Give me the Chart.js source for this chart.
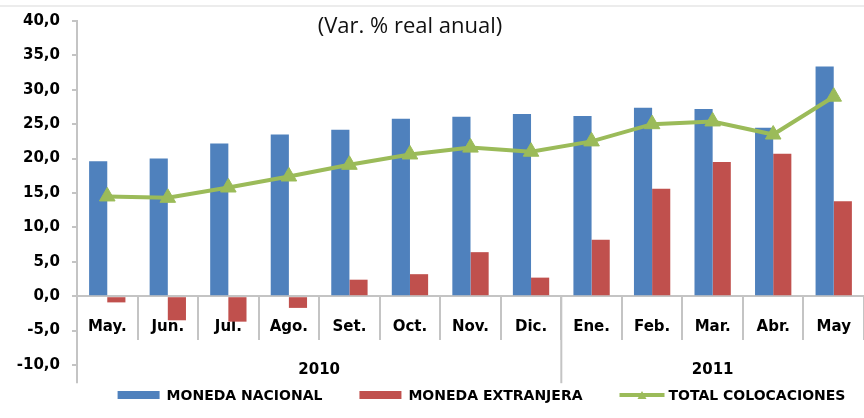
<!DOCTYPE html>
<html lang="es">
<head>
<meta charset="utf-8">
<title>Colocaciones — Var. % real anual</title>
<script src="https://cdn.jsdelivr.net/npm/chart.js@4.4.1/dist/chart.umd.min.js"></script>
<style>
  html, body { margin: 0; padding: 0; background: #fff; }
  #contenedor { position: relative; width: 864px; height: 418px; }
</style>
</head>
<body>
<div id="contenedor">
  <canvas id="cvColocaciones" width="864" height="418" role="img" aria-label="Colocaciones por moneda, variación % real anual">Colocaciones por moneda.</canvas>
</div>
<script>
// ---- datos ----
const categorias        = ["May.", "Jun.", "Jul.", "Ago.", "Set.", "Oct.", "Nov.", "Dic.", "Ene.", "Feb.", "Mar.", "Abr.", "May"];
const monedaNacional    = [19.6, 20.0, 22.2, 23.5, 24.2, 25.8, 26.1, 26.5, 26.2, 27.4, 27.2, 24.5, 33.4];
const monedaExtranjera  = [-0.9, -3.5, -3.7, -1.7, 2.4, 3.2, 6.4, 2.7, 8.2, 15.6, 19.5, 20.7, 13.8];
const totalColocaciones = [14.5, 14.3, 15.8, 17.4, 19.1, 20.6, 21.6, 21.0, 22.5, 25.0, 25.4, 23.5, 29.0];
const anios             = ["2010", "2011"];
const mesesPorAnio      = [8, 5];
const ejeY              = { min: -10, max: 40, paso: 5 };
const subtitulo         = "(Var. % real anual)";

const AZUL  = "#4F81BD";
const ROJO  = "#C0504D";
const VERDE = "#9BBB59";
const GRIS  = "#c4c4c4";
const FUENTE_EJE = "DejaVu Sans";

const leyenda = [
  { texto: "MONEDA NACIONAL",      color: AZUL,  tipo: "caja" },
  { texto: "MONEDA EXTRANJERA",    color: ROJO,  tipo: "caja" },
  { texto: "TOTAL COLOCACIONES",   color: VERDE, tipo: "linea" },
];

const fmt = (v) => v.toFixed(1).replace(".", ",");

// años (eje de categorías de dos niveles), leyenda y subtítulo
const extrasPlugin = {
  id: "extras",
  afterDraw(chart) {
    const { ctx, chartArea, scales: { x, y } } = chart;
    const y0   = y.getPixelForValue(0);
    const paso = x.getPixelForValue(1) - x.getPixelForValue(0);
    ctx.save();

    // línea gris superior (resto del recorte original)
    ctx.strokeStyle = "#e6e6e6"; ctx.lineWidth = 1.5;
    ctx.beginPath(); ctx.moveTo(0, 6); ctx.lineTo(chart.width, 6); ctx.stroke();

    // subtítulo
    ctx.fillStyle = "#111"; ctx.font = "22px 'Open Sans'";
    ctx.textAlign = "center"; ctx.textBaseline = "middle";
    ctx.fillText(subtitulo, 410, 27);

    // separadores y etiquetas de año
    ctx.strokeStyle = GRIS; ctx.lineWidth = 2;
    ctx.font = `bold 15px '${FUENTE_EJE}'`;
    let inicio = 0;
    anios.forEach((anio, i) => {
      const xi = x.getPixelForValue(inicio) - paso / 2;
      const xf = x.getPixelForValue(inicio + mesesPorAnio[i] - 1) + paso / 2;
      ctx.beginPath(); ctx.moveTo(xi, y0); ctx.lineTo(xi, y0 + 87); ctx.stroke();
      ctx.fillStyle = "#000";
      ctx.fillText(anio, (xi + xf) / 2, y0 + 74);
      inicio += mesesPorAnio[i];
    });

    // leyenda
    ctx.font = `bold 14px '${FUENTE_EJE}'`;
    ctx.textAlign = "left";
    const anchoCaja = 42, sep = 7, hueco = 37, yl = 395;
    const anchos = leyenda.map((l) => anchoCaja + sep + ctx.measureText(l.texto).width);
    const total  = anchos.reduce((a, b) => a + b, 0) + hueco * (leyenda.length - 1);
    let cx = (chartArea.left + chartArea.right) / 2 + 11 - total / 2;
    leyenda.forEach((l, i) => {
      if (l.tipo === "caja") {
        ctx.fillStyle = l.color;
        ctx.fillRect(cx, yl - 4, anchoCaja, 8);
      } else {
        ctx.strokeStyle = l.color; ctx.lineWidth = 4;
        ctx.beginPath(); ctx.moveTo(cx, yl); ctx.lineTo(cx + anchoCaja + 3, yl); ctx.stroke();
        ctx.fillStyle = l.color;
        const mx = cx + (anchoCaja + 3) / 2;
        ctx.beginPath(); ctx.moveTo(mx, yl - 4); ctx.lineTo(mx + 4.5, yl + 4); ctx.lineTo(mx - 4.5, yl + 4); ctx.closePath(); ctx.fill();
      }
      ctx.fillStyle = "#000";
      ctx.fillText(l.texto, cx + anchoCaja + sep, yl + 1);
      cx += anchos[i] + hueco;
    });
    ctx.restore();
  },
};

new Chart(document.getElementById("cvColocaciones").getContext("2d"), {
  type: "bar",
  plugins: [extrasPlugin],
  data: {
    labels: categorias,
    datasets: [
      { type: "line", label: "TOTAL COLOCACIONES", data: totalColocaciones, order: 0,
        borderColor: VERDE, backgroundColor: VERDE, borderWidth: 4, tension: 0,
        pointStyle: "triangle", pointRadius: 9, pointBorderWidth: 1, pointBackgroundColor: VERDE, pointBorderColor: VERDE },
      { label: "MONEDA NACIONAL",   data: monedaNacional,   order: 1, backgroundColor: AZUL, barPercentage: 1, categoryPercentage: 0.6 },
      { label: "MONEDA EXTRANJERA", data: monedaExtranjera, order: 1, backgroundColor: ROJO, barPercentage: 1, categoryPercentage: 0.6 },
    ],
  },
  options: {
    responsive: false, animation: false, devicePixelRatio: 1,
    layout: { autoPadding: false, padding: { top: 20, bottom: 53, left: 0, right: 0 } },
    plugins: { legend: { display: false }, tooltip: { enabled: false } },
    scales: {
      x: {
        position: { y: 0 }, offset: true,
        grid: { offset: true, drawOnChartArea: false, drawTicks: true, tickLength: 43, color: GRIS, lineWidth: 2 },
        border: { display: true, color: GRIS, width: 2 },
        ticks: { color: "#000", font: { family: FUENTE_EJE, size: 15, weight: "bold" }, padding: -21, autoSkip: false, maxRotation: 0 },
      },
      y: {
        min: ejeY.min, max: ejeY.max,
        afterFit: (s) => { s.width = 77; },
        grid: { drawOnChartArea: false, drawTicks: true, tickLength: 5, color: GRIS, lineWidth: 2 },
        border: { display: true, color: GRIS, width: 2 },
        ticks: { stepSize: ejeY.paso, color: "#000", padding: 12, font: { family: FUENTE_EJE, size: 15, weight: "bold" }, callback: (v) => fmt(v) },
      },
    },
  },
});
</script>
</body>
</html>
